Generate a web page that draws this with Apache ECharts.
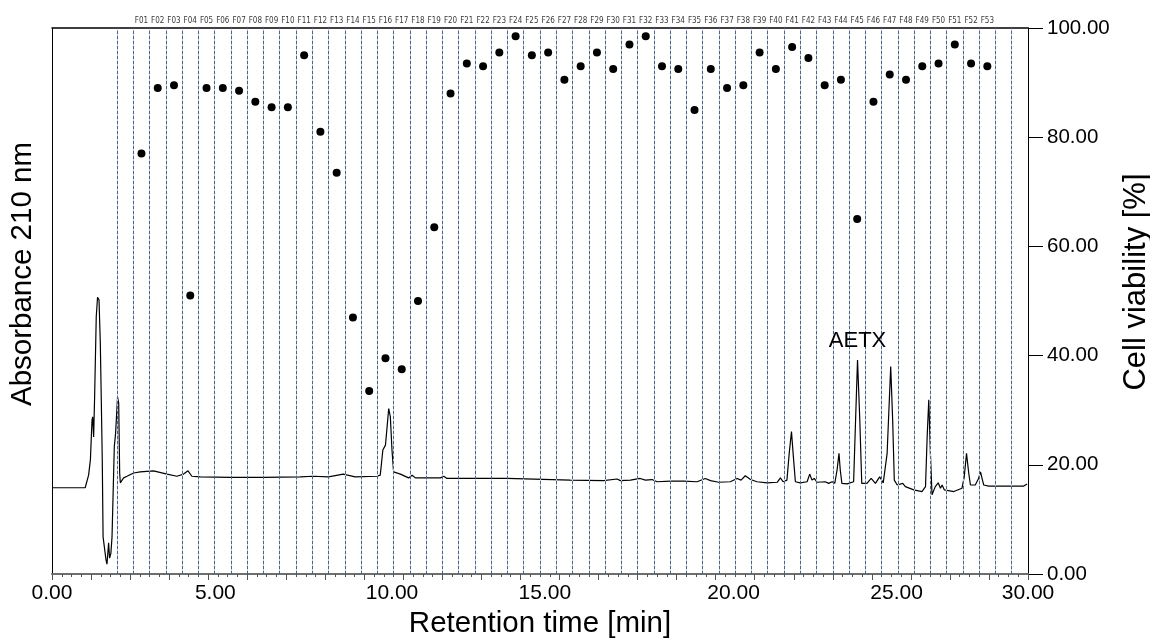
<!DOCTYPE html>
<html><head><meta charset="utf-8">
<script src="https://cdn.jsdelivr.net/npm/echarts@6/dist/echarts.min.js"></script>
<style>html,body{margin:0;padding:0;background:#fff}#c{width:1150px;height:638px}</style>
</head><body><div id="c"></div>
<script>
// Chromatogram (absorbance 210 nm, arbitrary units)
const retentionTime = [0.00,0.50,1.02,1.125,1.18,1.23,1.25,1.28,1.31,1.36,1.40,1.445,1.485,1.515,1.545,1.57,1.62,1.66,1.69,1.74,1.77,1.81,1.845,1.915,1.955,2.015,2.05,2.08,2.10,2.20,2.305,2.51,2.71,3.12,3.535,3.84,4.045,4.18,4.30,4.56,5.5,6.5,7.63,8.03,8.5,8.95,9.32,9.99,10.09,10.17,10.25,10.35,10.40,10.45,10.50,10.71,10.96,11.07,11.17,11.94,12.04,12.14,12.76,13.99,15.93,16.95,17.37,17.47,17.78,18.08,18.24,18.44,18.60,19.01,19.42,19.83,20.08,20.24,20.49,20.85,21.06,21.18,21.31,21.47,21.67,21.98,22.29,22.39,22.47,22.59,22.66,22.73,22.78,22.85,23.00,23.21,23.29,23.36,23.43,23.52,23.77,23.87,23.98,24.06,24.13,24.19,24.23,24.28,24.44,24.64,24.70,24.76,24.83,24.89,25.05,25.18,25.31,25.44,25.55,25.67,25.78,25.84,25.89,25.98,26.15,26.23,26.49,26.74,26.85,26.90,26.95,27.00,27.05,27.15,27.24,27.31,27.36,27.43,27.72,27.97,28.04,28.11,28.18,28.23,28.38,28.48,28.54,28.60,28.64,28.79,29.87,29.97];
const absorbance = [15.8,15.8,15.8,18.1,20.9,28.2,28.8,25.1,32.4,47.1,50.7,50.2,42.3,31.9,20.9,6.8,7.1,2.6,1.8,5.7,2.9,3.8,6.8,23.3,25.8,32.4,31.3,18.5,16.7,17.6,17.9,18.5,18.7,18.9,18.3,17.9,18.3,18.9,17.9,17.8,17.7,17.7,17.8,17.9,17.8,18.3,17.8,17.9,18.1,22.7,23.6,30.3,28.8,22.7,18.7,18.3,17.6,18.1,17.6,17.6,17.9,17.5,17.5,17.5,17.2,17.1,17.4,17.1,17.2,17.5,17.2,17.3,16.9,17.0,17.0,16.9,17.5,17.1,16.8,16.9,17.5,17.2,18.0,17.3,16.9,16.7,16.8,17.6,16.9,17.2,22.1,26.1,22.1,16.9,16.7,16.9,18.3,17.2,17.5,16.8,16.9,16.6,16.9,16.6,19.0,22.1,19.0,16.6,16.5,16.9,28.2,39.2,28.2,16.6,16.6,17.5,16.6,17.8,16.7,22.1,38.0,28.2,17.2,16.3,16.6,16.0,15.4,15.1,16.0,25.1,31.9,22.1,14.5,16.0,16.7,15.7,16.3,15.4,15.1,15.7,17.8,22.1,18.4,16.3,16.3,17.5,18.7,17.2,16.3,16.1,16.1,16.5];

// Fractions
const fractionLabels = ['F01','F02','F03','F04','F05','F06','F07','F08','F09','F10','F11','F12','F13','F14','F15','F16','F17','F18','F19','F20','F21','F22','F23','F24','F25','F26','F27','F28','F29','F30','F31','F32','F33','F34','F35','F36','F37','F38','F39','F40','F41','F42','F43','F44','F45','F46','F47','F48','F49','F50','F51','F52','F53'];
const fractionTime = [2.75,3.25,3.75,4.25,4.75,5.25,5.75,6.25,6.75,7.25,7.75,8.25,8.75,9.25,9.75,10.25,10.75,11.25,11.75,12.25,12.75,13.25,13.75,14.25,14.75,15.25,15.75,16.25,16.75,17.25,17.75,18.25,18.75,19.25,19.75,20.25,20.75,21.25,21.75,22.25,22.75,23.25,23.75,24.25,24.75,25.25,25.75,26.25,26.75,27.25,27.75,28.25,28.75];
const cellViability = [77,89,89.5,51,89,89,88.5,86.5,85.5,85.5,95,81,73.5,47,33.5,39.5,37.5,50,63.5,88,93.5,93,95.5,98.5,95,95.5,90.5,93,95.5,92.5,97,98.5,93,92.5,85,92.5,89,89.5,95.5,92.5,96.5,94.5,89.5,90.5,65,86.5,91.5,90.5,93,93.5,97,93.5,93];
const fractionEdges = [2.0,2.5,3.0,3.5,4.0,4.5,5.0,5.5,6.0,6.5,7.0,7.5,8.0,8.5,9.0,9.5,10.0,10.5,11.0,11.5,12.0,12.5,13.0,13.5,14.0,14.5,15.0,15.5,16.0,16.5,17.0,17.5,18.0,18.5,19.0,19.5,20.0,20.5,21.0,21.5,22.0,22.5,23.0,23.5,24.0,24.5,25.0,25.5,26.0,26.5,27.0,27.5,28.0,28.5,29.0,29.5];

// Tick labels
const xTickLabels = ['0.00','5.00','10.00','15.00','20.00','25.00','30.00'];
const yRightTickLabels = ['0.00','20.00','40.00','60.00','80.00','100.00'];
const annotation = {name:'AETX', time:24.76, value:39.2};

const xLabelAt = [0, 5.02, 10.45, 15.15, 20.95, 25.96, 30];
const FONT = "'Liberation Sans', Arial, sans-serif";

// pick a narrow font for fraction labels if one is installed
const ctx = document.createElement('canvas').getContext('2d');
ctx.font = "20px monospace"; const wMono = ctx.measureText('F01F02F03').width;
ctx.font = "20px 'Liberation Sans Narrow', monospace"; const wNarrow = ctx.measureText('F01F02F03').width;
const hasNarrow = Math.abs(wNarrow - wMono) > 0.5;
const fracFont = hasNarrow ? "'Liberation Sans Narrow', sans-serif" : "'DejaVu Sans Condensed', sans-serif";
const fracSize = hasNarrow ? 9 : 8;

const edgeLines = fractionEdges.map(function(x){return {xAxis:x};});

const chart = echarts.init(document.getElementById('c'), null, {renderer:'canvas'});
chart.setOption({
  animation:false,
  backgroundColor:'#fff',
  grid:{left:52, right:122, top:28, bottom:64, containLabel:false, outerBoundsMode:'none'},
  xAxis:[{
    type:'value', min:0, max:30, interval:1.2, position:'bottom',
    name:'Retention time [min]', nameLocation:'middle', nameGap:20,
    nameTextStyle:{fontFamily:FONT, fontSize:29.5, color:'#000'},
    axisLine:{show:true, onZero:false, lineStyle:{color:'#6e6e6e', width:2}},
    axisTick:{show:true, length:6, lineStyle:{color:'#555', width:1}},
    minorTick:{show:true, splitNumber:4, length:3, lineStyle:{color:'#555', width:1}},
    splitLine:{show:false},
    axisLabel:{show:true, customValues:xLabelAt, margin:9, fontFamily:FONT, fontSize:21, color:'#000',
      formatter:function(v){ const i = xLabelAt.indexOf(v); return i>=0 ? xTickLabels[i] : ''; }}
  },{
    type:'value', min:0, max:30, position:'top',
    axisLine:{show:true, onZero:false, lineStyle:{color:'#000', width:1.5}},
    axisTick:{show:false}, axisLabel:{show:false}, splitLine:{show:false}
  }],
  yAxis:[{
    type:'value', min:0, max:100, position:'left',
    name:'Absorbance 210 nm', nameLocation:'middle', nameGap:14, nameRotate:90,
    nameTextStyle:{fontFamily:FONT, fontSize:29.5, color:'#000', padding:[0,0,0,54]},
    axisLine:{show:true, onZero:false, lineStyle:{color:'#000', width:1}},
    axisTick:{show:false}, axisLabel:{show:false}, splitLine:{show:false}
  },{
    type:'value', min:0, max:100, interval:20, position:'right',
    name:'Cell viability [%]', nameLocation:'middle', nameGap:86, nameRotate:90,
    nameTextStyle:{fontFamily:FONT, fontSize:31, color:'#000', padding:[0,0,0,38]},
    axisLine:{show:true, onZero:false, lineStyle:{color:'#000', width:1}},
    axisTick:{show:true, inside:false, length:15, lineStyle:{color:'#000', width:1}},
    axisLabel:{show:true, margin:19, fontFamily:FONT, fontSize:20.5, color:'#000',
      formatter:function(v){ return yRightTickLabels[Math.round(v/20)]; }},
    splitLine:{show:false}
  }],
  series:[{
    type:'line', name:'edgesUnder', data:[], z:1, silent:true,
    markLine:{silent:true, symbol:'none', animation:false, label:{show:false},
      lineStyle:{type:'solid', color:'#bccbe0', width:1},
      emphasis:{disabled:true}, data:edgeLines}
  },{
    type:'line', name:'edges', data:[], z:2, silent:true,
    markLine:{silent:true, symbol:'none', animation:false, label:{show:false},
      lineStyle:{type:[3,2], color:'#4a6488', width:1},
      emphasis:{disabled:true}, data:edgeLines}
  },{
    type:'line', name:'Absorbance', xAxisIndex:0, yAxisIndex:0, z:3,
    data:retentionTime.map(function(t,i){return [t, absorbance[i]];}),
    showSymbol:false, symbol:'none', smooth:false,
    lineStyle:{color:'#000', width:1.2},
    markPoint:{symbol:'circle', symbolSize:0, silent:true,
      label:{show:true, position:'top', distance:8, formatter:'{b}', fontFamily:FONT, fontSize:22, color:'#000'},
      data:[{name:annotation.name, coord:[annotation.time, annotation.value]}]}
  },{
    type:'scatter', name:'Cell viability', xAxisIndex:0, yAxisIndex:1, z:4,
    data:fractionTime.map(function(t,i){return [t, cellViability[i]];}),
    symbol:'circle', symbolSize:8, itemStyle:{color:'#000', opacity:1}
  },{
    type:'scatter', name:'Fractions', xAxisIndex:0, yAxisIndex:1, z:4, clip:false, silent:true,
    data:fractionTime.map(function(t,i){return [t, 100];}),
    symbolSize:0,
    label:{show:true, position:'top', distance:3, fontFamily:fracFont, fontSize:fracSize, color:'#000',
      formatter:function(p){return fractionLabels[p.dataIndex];}}
  }]
});
</script></body></html>
